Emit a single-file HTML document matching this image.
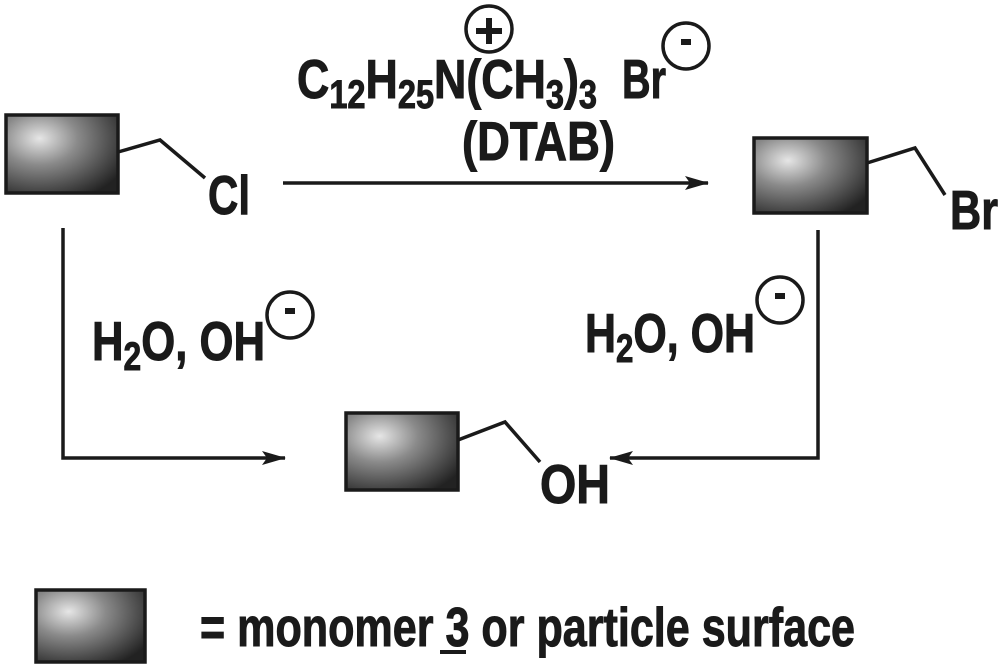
<!DOCTYPE html>
<html><head><meta charset="utf-8"><style>
html,body{margin:0;padding:0;background:#fff;}
svg{display:block;}
text{font-family:"Liberation Sans",sans-serif;font-weight:bold;fill:#1a1a1a;stroke:#1a1a1a;stroke-width:1;}
</style></head><body>
<svg width="1000" height="668" viewBox="0 0 1000 668" xmlns="http://www.w3.org/2000/svg">
<defs>
<radialGradient id="g" cx="0.3" cy="0.3" r="0.85">
<stop offset="0" stop-color="#e6e6e6"/>
<stop offset="0.4" stop-color="#8a8a8a"/>
<stop offset="1" stop-color="#222"/>
</radialGradient>
<marker id="ah" markerWidth="24" markerHeight="14" refX="23" refY="7" orient="auto" markerUnits="userSpaceOnUse">
<path d="M0,0 L24,7 L0,14 L5,7 Z" fill="#1a1a1a"/>
</marker>
</defs>
<g stroke="#1a1a1a" stroke-width="3.5" fill="none">
<rect x="6" y="115" width="112" height="78" fill="url(#g)"/>
<rect x="754" y="138" width="113" height="75" fill="url(#g)"/>
<rect x="346" y="413" width="112" height="77" fill="url(#g)"/>
<rect x="36" y="590" width="109" height="72" fill="url(#g)"/>
<polyline points="118,152 160,140 205,178"/>
<polyline points="867,163 915,148 945,195"/>
<polyline points="458,440 505,422 540,462"/>
<line x1="283" y1="183" x2="708" y2="183" marker-end="url(#ah)"/>
<polyline points="63,228 63,458 285,458" marker-end="url(#ah)"/>
<polyline points="818,230 818,458 610,458" marker-end="url(#ah)"/>
<circle cx="489" cy="29" r="23"/>
<circle cx="686" cy="46" r="23"/>
<circle cx="290" cy="315" r="23"/>
<circle cx="780" cy="300" r="23"/>
</g>
<g stroke="#1a1a1a" stroke-width="6">
<line x1="476" y1="31" x2="502" y2="31"/><line x1="489" y1="18" x2="489" y2="44"/>
<line x1="681" y1="42" x2="691" y2="42"/>
<line x1="285" y1="311" x2="295" y2="311"/>
<line x1="775" y1="296" x2="785" y2="296"/>
</g>
<g font-size="55">
<text x="297" y="98" textLength="300" lengthAdjust="spacingAndGlyphs">C<tspan font-size="40" dy="10">12</tspan><tspan dy="-10">H</tspan><tspan font-size="40" dy="10">25</tspan><tspan dy="-10">N(CH</tspan><tspan font-size="40" dy="10">3</tspan><tspan dy="-10">)</tspan><tspan font-size="40" dy="10">3</tspan></text>
<text x="622" y="98" textLength="44" lengthAdjust="spacingAndGlyphs">Br</text>
<text x="462" y="160" textLength="153" lengthAdjust="spacingAndGlyphs">(DTAB)</text>
<text x="208" y="214" textLength="42" lengthAdjust="spacingAndGlyphs">Cl</text>
<text x="950" y="229" textLength="48" lengthAdjust="spacingAndGlyphs">Br</text>
<text x="92" y="360" textLength="173" lengthAdjust="spacingAndGlyphs">H<tspan font-size="40" dy="10">2</tspan><tspan dy="-10">O, OH</tspan></text>
<text x="585" y="352" textLength="170" lengthAdjust="spacingAndGlyphs">H<tspan font-size="40" dy="10">2</tspan><tspan dy="-10">O, OH</tspan></text>
<text x="540" y="503" textLength="70" lengthAdjust="spacingAndGlyphs">OH</text>
<text x="200" y="646" textLength="655" lengthAdjust="spacingAndGlyphs">= monomer 3 or particle surface</text>
</g>
<line x1="440" y1="652" x2="466" y2="652" stroke="#1a1a1a" stroke-width="4"/>
</svg>
</body></html>
